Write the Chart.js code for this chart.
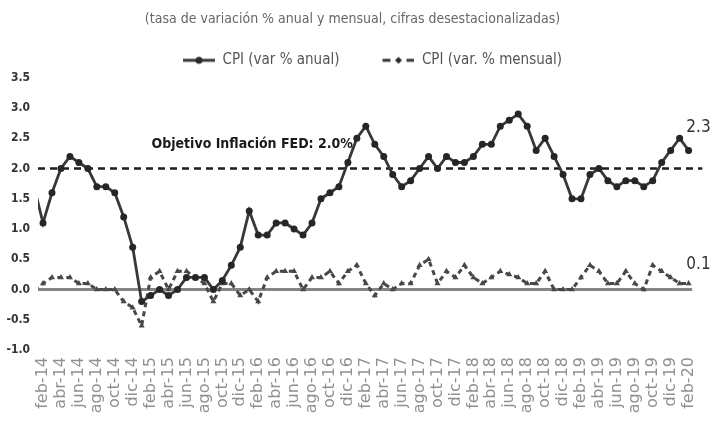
<!DOCTYPE html>
<html>
<head>
<meta charset="utf-8">
<script src="https://cdn.jsdelivr.net/npm/chart.js@4.4.1/dist/chart.umd.min.js"></script>
<style>
  html, body { margin: 0; padding: 0; background: #fff; }
</style>
</head>
<body>
<canvas id="chart" width="715" height="424"></canvas>
<script>
// meses (ene-14 .. feb-20)
const months = [
  'ene-14','feb-14','mar-14','abr-14','may-14','jun-14','jul-14','ago-14','sep-14','oct-14','nov-14','dic-14',
  'ene-15','feb-15','mar-15','abr-15','may-15','jun-15','jul-15','ago-15','sep-15','oct-15','nov-15','dic-15',
  'ene-16','feb-16','mar-16','abr-16','may-16','jun-16','jul-16','ago-16','sep-16','oct-16','nov-16','dic-16',
  'ene-17','feb-17','mar-17','abr-17','may-17','jun-17','jul-17','ago-17','sep-17','oct-17','nov-17','dic-17',
  'ene-18','feb-18','mar-18','abr-18','may-18','jun-18','jul-18','ago-18','sep-18','oct-18','nov-18','dic-18',
  'ene-19','feb-19','mar-19','abr-19','may-19','jun-19','jul-19','ago-19','sep-19','oct-19','nov-19','dic-19',
  'ene-20','feb-20'
];

// CPI var % anual
const cpiAnual = [
  1.7, 1.1, 1.6, 2.0, 2.2, 2.1, 2.0, 1.7, 1.7, 1.6, 1.2, 0.7,
  -0.2, -0.1, 0.0, -0.1, 0.0, 0.2, 0.2, 0.2, 0.0, 0.15, 0.4, 0.7,
  1.3, 0.9, 0.9, 1.1, 1.1, 1.0, 0.9, 1.1, 1.5, 1.6, 1.7, 2.1,
  2.5, 2.7, 2.4, 2.2, 1.9, 1.7, 1.8, 2.0, 2.2, 2.0, 2.2, 2.1,
  2.1, 2.2, 2.4, 2.4, 2.7, 2.8, 2.9, 2.7, 2.3, 2.5, 2.2, 1.9,
  1.5, 1.5, 1.9, 2.0, 1.8, 1.7, 1.8, 1.8, 1.7, 1.8, 2.1, 2.3,
  2.5, 2.3
];

// CPI var % mensual
const cpiMensual = [
  0.0, 0.1, 0.2, 0.2, 0.2, 0.1, 0.1, 0.0, 0.0, 0.0, -0.2, -0.3,
  -0.6, 0.2, 0.3, 0.0, 0.3, 0.3, 0.2, 0.1, -0.2, 0.1, 0.1, -0.1,
  0.0, -0.2, 0.2, 0.3, 0.3, 0.3, 0.0, 0.2, 0.2, 0.3, 0.1, 0.3,
  0.4, 0.1, -0.1, 0.1, 0.0, 0.1, 0.1, 0.4, 0.5, 0.1, 0.3, 0.2,
  0.4, 0.2, 0.1, 0.2, 0.3, 0.25, 0.2, 0.1, 0.1, 0.3, 0.0, 0.0,
  0.0, 0.2, 0.4, 0.3, 0.1, 0.1, 0.3, 0.1, 0.0, 0.4, 0.3, 0.2,
  0.1, 0.1
];

const metaFed = 2.0;

const narrow = "'Liberation Sans Narrow', 'DejaVu Sans Condensed', 'Roboto Condensed', sans-serif";
const lineColor = '#383838';

// etiquetas del eje x cada 2 meses (feb, abr, jun...)
const tickIdx = months.map((m, i) => i).filter(i => i % 2 === 1);

const toPoints = arr => arr.map((v, i) => ({ x: i, y: v }));

// iconos de la leyenda
function legendIcon(dashed) {
  const c = document.createElement('canvas');
  c.width = 72;
  c.height = 10;
  const g = c.getContext('2d');
  g.strokeStyle = lineColor;
  g.fillStyle = '#2a2a2a';
  g.lineWidth = 3;
  if (dashed) {
    g.beginPath(); g.moveTo(40, 5); g.lineTo(48, 5); g.stroke();
    g.beginPath(); g.moveTo(64, 5); g.lineTo(72, 5); g.stroke();
    g.beginPath(); g.moveTo(56, 1.5); g.lineTo(59.5, 5); g.lineTo(56, 8.5); g.lineTo(52.5, 5); g.closePath(); g.fill();
  } else {
    g.beginPath(); g.moveTo(40, 5); g.lineTo(72, 5); g.stroke();
    g.beginPath(); g.arc(56, 5, 3.5, 0, Math.PI * 2); g.fill();
  }
  return c;
}
const icons = [legendIcon(false), legendIcon(true)];

// textos sobre el grafico
const notes = {
  id: 'notes',
  afterDatasetsDraw(chart) {
    const { ctx, scales: { x, y } } = chart;
    ctx.save();
    ctx.textBaseline = 'middle';
    ctx.fillStyle = '#1a1a1a';
    ctx.font = 'bold 14px ' + narrow;
    ctx.textAlign = 'left';
    ctx.fillText('Objetivo Inflación FED: ' + metaFed.toFixed(1) + '%', x.getPixelForValue(13.1), y.getPixelForValue(2.4));
    ctx.fillStyle = '#333';
    ctx.font = '17px ' + narrow;
    ctx.textAlign = 'center';
    ctx.fillText(cpiAnual[cpiAnual.length - 1].toFixed(1), x.getPixelForValue(74.1), y.getPixelForValue(2.67));
    ctx.fillText(cpiMensual[cpiMensual.length - 1].toFixed(1), x.getPixelForValue(74.1), y.getPixelForValue(0.41));
    ctx.restore();
  }
};

const ctx = document.querySelector('#chart').getContext('2d');

new Chart(ctx, {
  type: 'line',
  data: {
    datasets: [
      {
        label: 'CPI (var % anual)',
        data: toPoints(cpiAnual),
        borderColor: lineColor,
        borderWidth: 2.8,
        pointRadius: 3.5,
        pointBackgroundColor: '#262626',
        pointBorderWidth: 0,
        tension: 0,
        clip: 0,
        order: 0
      },
      {
        label: 'CPI (var. % mensual)',
        data: toPoints(cpiMensual),
        borderColor: '#484848',
        borderWidth: 3,
        borderDash: [5, 4],
        pointStyle: 'triangle',
        pointRadius: 3.5,
        pointBackgroundColor: '#484848',
        pointBorderWidth: 0,
        tension: 0,
        clip: 0,
        order: 1
      },
      {
        label: 'meta',
        data: [{ x: 0.44, y: metaFed }, { x: 74.56, y: metaFed }],
        borderColor: '#1e1e1e',
        borderWidth: 2.5,
        borderDash: [7, 5],
        pointRadius: 0,
        order: 2
      },
      {
        label: 'cero',
        data: [{ x: 0.44, y: 0 }, { x: 73.4, y: 0 }],
        borderColor: '#858585',
        borderWidth: 3,
        pointRadius: 0,
        order: 3
      }
    ]
  },
  options: {
    responsive: false,
    animation: false,
    layout: { padding: { top: 0, right: 10, left: 0, bottom: 0 } },
    plugins: {
      title: {
        display: true,
        text: '(tasa de variación % anual y mensual, cifras desestacionalizadas)',
        color: '#666',
        font: { family: narrow, size: 14, weight: 'normal' },
        padding: { top: 11, bottom: 22 }
      },
      legend: {
        display: true,
        labels: {
          usePointStyle: true,
          pointStyleWidth: 72,
          padding: 3,
          color: '#555',
          font: { family: narrow, size: 15 },
          filter: item => item.datasetIndex < 2,
          generateLabels: chart => {
            const items = Chart.defaults.plugins.legend.labels.generateLabels(chart);
            items.forEach(it => { if (it.datasetIndex < 2) it.pointStyle = icons[it.datasetIndex]; });
            return items;
          }
        }
      },
      tooltip: { enabled: false }
    },
    scales: {
      x: {
        type: 'linear',
        min: 0.44,
        max: 74.56,
        grid: { display: false, drawTicks: false },
        border: { display: false },
        afterBuildTicks: axis => { axis.ticks = tickIdx.map(v => ({ value: v })); },
        afterFit: axis => { axis.height = 74; },
        ticks: {
          autoSkip: false,
          minRotation: 90,
          maxRotation: 90,
          padding: 7,
          color: '#909090',
          font: { family: "'DejaVu Sans', sans-serif", size: 16 },
          callback: v => months[v]
        }
      },
      y: {
        min: -1,
        max: 3.5,
        grid: { display: false, drawTicks: false },
        border: { display: false },
        afterFit: axis => { axis.width = 38; },
        ticks: {
          stepSize: 0.5,
          padding: 8,
          color: '#333',
          font: { family: narrow, size: 12, weight: 'bold' },
          callback: v => v.toFixed(1)
        }
      }
    }
  },
  plugins: [notes]
});
</script>
</body>
</html>
